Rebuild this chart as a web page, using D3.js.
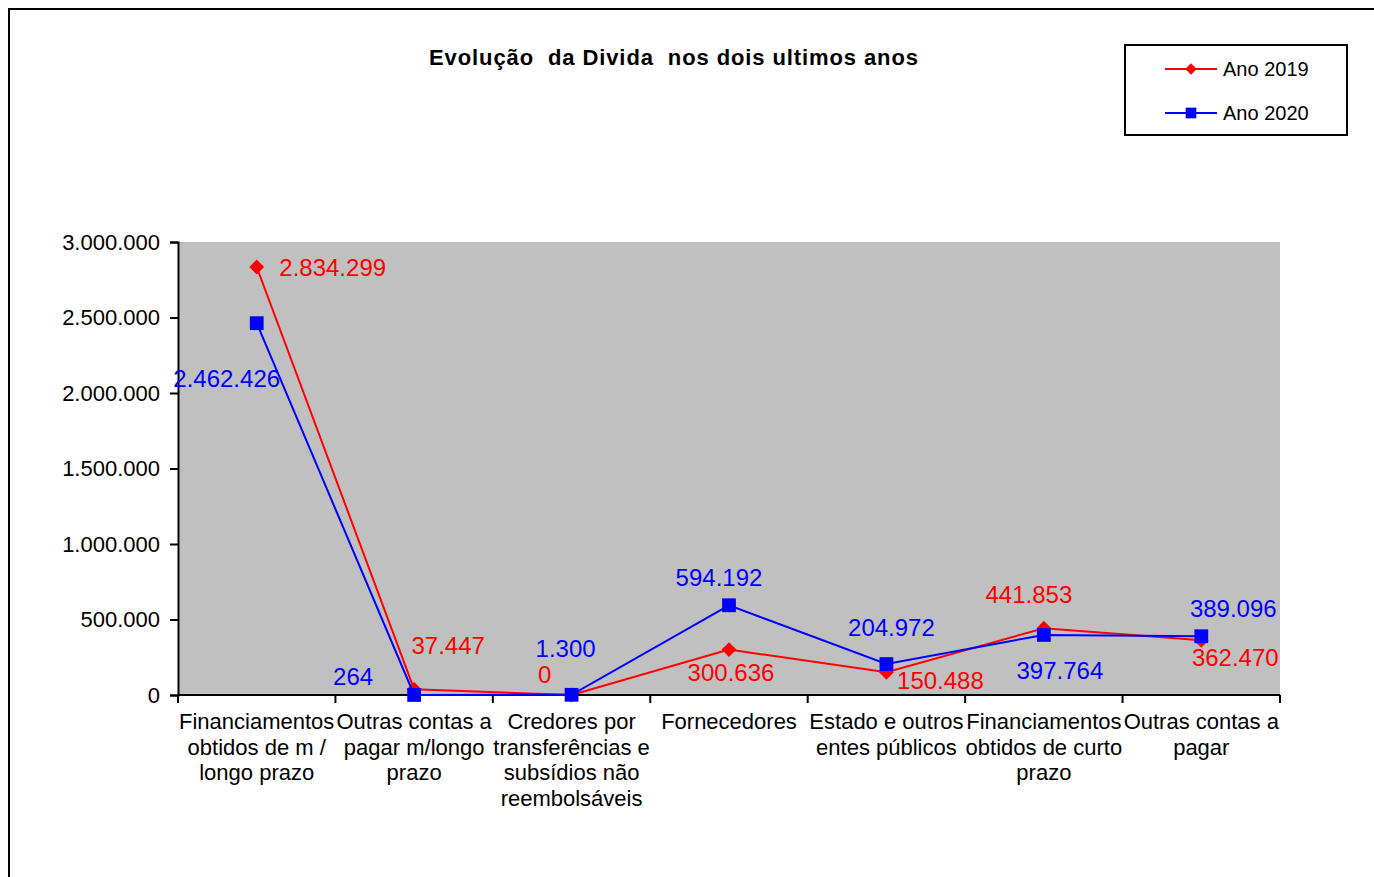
<!DOCTYPE html>
<meta charset="utf-8"/>
<title>Evolução da Divida</title>
<script src="https://cdn.jsdelivr.net/npm/d3@7/dist/d3.min.js"></script>
<style>
    body { margin: 0; background: #fff; }
    svg { display: block; }
    text { font-family: "Liberation Sans", Arial, sans-serif; fill: #000; }
    .title { font-weight: bold; font-size: 22px; white-space: pre; }
    .tick-label { font-size: 22px; }
    .cat-label { font-size: 22px; }
    .value-label { font-size: 24px; }
    .legend-label { font-size: 20px; }
</style>
<svg id="chart" width="1374" height="877"></svg>
<script>
    "use strict";

    // categories (already wrapped as in the original)
    const categories = [
        ["Financiamentos", "obtidos de m /", "longo prazo"],
        ["Outras contas a", "pagar m/longo", "prazo"],
        ["Credores por", "transferências e", "subsídios não", "reembolsáveis"],
        ["Fornecedores"],
        ["Estado e outros", "entes públicos"],
        ["Financiamentos", "obtidos de curto", "prazo"],
        ["Outras contas a", "pagar"]
    ];
    const values2019 = [2834299, 37447, 0, 300636, 150488, 441853, 362470];
    const values2020 = [2462426, 264, 1300, 594192, 204972, 397764, 389096];
    const yTicks = [0, 500000, 1000000, 1500000, 2000000, 2500000, 3000000];

    // where each value label sits relative to its point (Excel placed them by hand)
    const offsets2019 = [[76, 1], [34, -44], [-27, -20], [2, 23], [54, 8], [-15, -34], [34, 17]];
    const offsets2020 = [[-30, 55], [-61, -18], [-6, -46], [-10, -28], [5, -36], [16, 36], [32, -28]];

    const svg = d3.select("#chart");
    const plot = {left: 178, right: 1280, top: 242, bottom: 695};

    const ptBR = d3.formatLocale({decimal: ",", thousands: ".", grouping: [3], currency: ["", ""]});
    const fmt = ptBR.format(",d");

    const x = d3.scaleBand().domain(d3.range(categories.length)).range([plot.left, plot.right]);
    const y = d3.scaleLinear().domain([0, 3000000]).range([plot.bottom, plot.top]);

    // outer chart frame
    svg.append("rect")
        .attr("x", 9).attr("y", 9).attr("width", 1400).attr("height", 900)
        .attr("fill", "none").attr("stroke", "#000").attr("stroke-width", 2);

    // title (Excel spreads the letters out a bit)
    svg.append("text")
        .attr("class", "title")
        .attr("x", 429).attr("y", 65)
        .attr("textLength", 489)
        .attr("lengthAdjust", "spacing")
        .text("Evolução  da Divida  nos dois ultimos anos");

    // plot area
    svg.append("rect")
        .attr("x", plot.left).attr("y", plot.top)
        .attr("width", plot.right - plot.left).attr("height", plot.bottom - plot.top)
        .attr("fill", "#c0c0c0");

    // y axis
    const yAxis = svg.append("g")
        .attr("transform", "translate(" + plot.left + ",0)")
        .call(d3.axisLeft(y).tickValues(yTicks).tickFormat(fmt).tickSize(8).tickPadding(10));
    yAxis.attr("font-size", null).attr("font-family", null);
    yAxis.select(".domain").attr("stroke", "#000").attr("stroke-width", 2);
    yAxis.selectAll(".tick line").attr("stroke", "#000").attr("stroke-width", 2);
    yAxis.selectAll(".tick text").attr("class", "tick-label");

    // x axis with boundary ticks
    const xAxisG = svg.append("g").attr("transform", "translate(0," + plot.bottom + ")");
    xAxisG.append("line")
        .attr("x1", plot.left).attr("x2", plot.right)
        .attr("stroke", "#000").attr("stroke-width", 2);
    xAxisG.selectAll("line.bound")
        .data(d3.range(categories.length + 1))
        .join("line")
        .attr("class", "bound")
        .attr("x1", function (d) { return plot.left + d * x.bandwidth(); })
        .attr("x2", function (d) { return plot.left + d * x.bandwidth(); })
        .attr("y1", 0).attr("y2", 8)
        .attr("stroke", "#000").attr("stroke-width", 2);

    const catText = svg.append("g").selectAll("text")
        .data(categories)
        .join("text")
        .attr("class", "cat-label")
        .attr("text-anchor", "middle")
        .attr("x", function (d, i) { return x(i) + x.bandwidth() / 2; })
        .attr("y", 729);
    catText.selectAll("tspan")
        .data(function (d, i) { return d.map(function (s) { return {s: s, i: i}; }); })
        .join("tspan")
        .attr("x", function (d) { return x(d.i) + x.bandwidth() / 2; })
        .attr("dy", function (d, j) { return j === 0 ? 0 : 25.7; })
        .text(function (d) { return d.s; });

    const cx = function (d, i) { return x(i) + x.bandwidth() / 2; };
    const line = d3.line().x(cx).y(function (d) { return y(d); });

    const series = [
        {name: "Ano 2019", values: values2019, offsets: offsets2019, color: "#ff0000", symbol: d3.symbolDiamond2, size: 140},
        {name: "Ano 2020", values: values2020, offsets: offsets2020, color: "#0000ff", symbol: d3.symbolSquare, size: 190}
    ];

    series.forEach(function (s) {
        svg.append("path")
            .datum(s.values)
            .attr("d", line)
            .attr("fill", "none")
            .attr("stroke", s.color)
            .attr("stroke-width", 2);
        svg.append("g").selectAll("path")
            .data(s.values)
            .join("path")
            .attr("d", d3.symbol(s.symbol, s.size))
            .attr("transform", function (d, i) { return "translate(" + cx(d, i) + "," + y(d) + ")"; })
            .attr("fill", s.color);
    });

    series.forEach(function (s) {
        svg.append("g").selectAll("text")
            .data(s.values)
            .join("text")
            .attr("class", "value-label")
            .attr("text-anchor", "middle")
            .attr("dy", "0.35em")
            .attr("x", function (d, i) { return cx(d, i) + s.offsets[i][0]; })
            .attr("y", function (d, i) { return y(d) + s.offsets[i][1]; })
            .style("fill", s.color)
            .text(fmt);
    });

    // legend
    const legend = svg.append("g");
    legend.append("rect")
        .attr("x", 1125).attr("y", 45).attr("width", 222).attr("height", 90)
        .attr("fill", "#fff").attr("stroke", "#000").attr("stroke-width", 2);
    const item = legend.selectAll("g.item")
        .data(series)
        .join("g")
        .attr("class", "item")
        .attr("transform", function (d, i) { return "translate(0," + (69 + i * 44) + ")"; });
    item.append("line")
        .attr("x1", 1165).attr("x2", 1217)
        .attr("stroke", function (d) { return d.color; })
        .attr("stroke-width", 2);
    item.append("path")
        .attr("transform", "translate(1191,0)")
        .attr("d", function (d) { return d3.symbol(d.symbol, d.size * 0.6)(); })
        .attr("fill", function (d) { return d.color; });
    item.append("text")
        .attr("class", "legend-label")
        .attr("x", 1223).attr("dy", "0.35em")
        .text(function (d) { return d.name; });
</script>
